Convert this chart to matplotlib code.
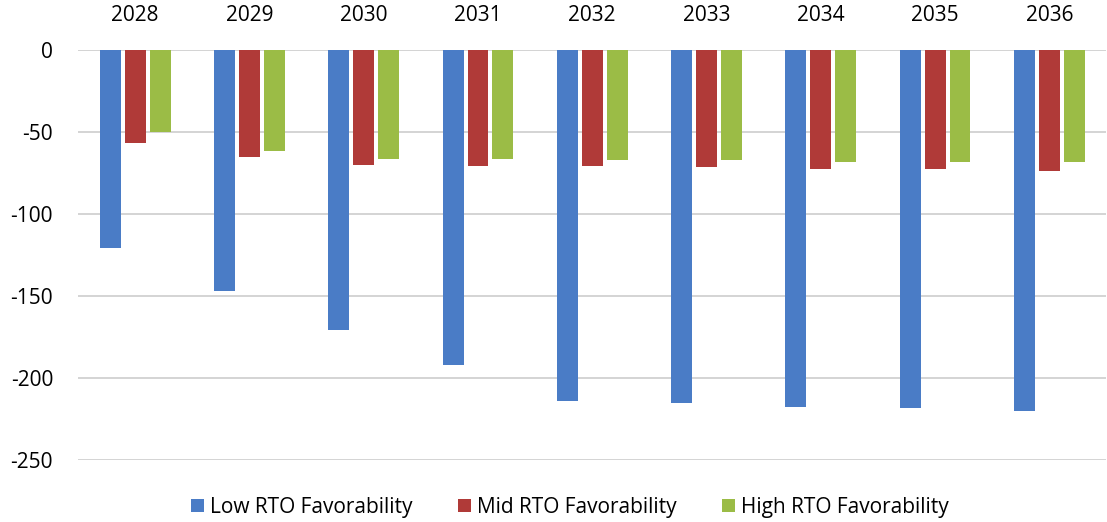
import numpy as np
import matplotlib.pyplot as plt

plt.rcParams['font.family'] = ['Open Sans', 'DejaVu Sans']
plt.rcParams['font.size'] = 15
plt.rcParams['axes.unicode_minus'] = False

years = ['2028', '2029', '2030', '2031', '2032', '2033', '2034', '2035', '2036']
low_rto = [-121, -147, -171, -192, -214, -215.5, -217.5, -218.5, -220.5]
mid_rto = [-57, -65.5, -70.5, -71, -71, -71.5, -73, -73, -74]
high_rto = [-50.5, -61.5, -66.5, -66.5, -67, -67, -68.5, -68.5, -68.5]

series = [
    ('Low RTO Favorability', low_rto, '#4A7CC6'),
    ('Mid RTO Favorability', mid_rto, '#B03A38'),
    ('High RTO Favorability', high_rto, '#9BBC46'),
]

fig = plt.figure(figsize=(11.07, 5.22), dpi=100)
ax = fig.add_axes([0.0705, 0.119, 0.929, 0.786])

x = np.arange(len(years))
step = 0.218
width = 0.183
for k, (name, vals, color) in enumerate(series):
    ax.bar(x + (k - 1) * step, vals, width, color=color, label=name, zorder=3)

ax.set_xlim(-0.5, len(years) - 0.5)
ax.set_ylim(-250, 0)
ax.set_yticks(np.arange(-250, 1, 50))
ax.yaxis.grid(True, color='#D4D4D4', linewidth=1.4, zorder=0)
ax.axhline(0, color='#D4D4D4', linewidth=1.4, zorder=1)

# year labels sit above the zero line
ax.xaxis.tick_top()
ax.set_xticks(x)
ax.set_xticklabels(years)
ax.tick_params(axis='x', length=0, pad=17, labelsize=15)
ax.tick_params(axis='y', length=0, pad=18, labelsize=15)
for s in ax.spines.values():
    s.set_visible(False)

fig.legend(loc='center', bbox_to_anchor=(570 / 1107, 1 - 507 / 522), ncol=3,
           frameon=False, handlelength=0.6, handleheight=0.6,
           handletextpad=0.3, columnspacing=2.2, fontsize=15)

fig.savefig('out.png', dpi=100)
